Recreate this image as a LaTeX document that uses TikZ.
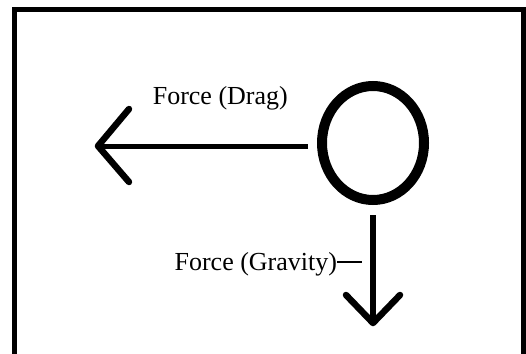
\documentclass[tikz,border=0pt]{standalone}
\usepackage{fontspec}
\setmainfont{Liberation Serif}
\usetikzlibrary{shapes.geometric}
\begin{document}
\begin{tikzpicture}[x=1pt,y=-1pt,
  frameline/.style={line width=5pt},
  ballstyle/.style={draw,ellipse,line width=10pt,minimum width=102pt,minimum height=114pt,inner sep=0pt},
  shaft/.style={line width=5pt},
  barb/.style={line width=6.5pt,line cap=round,line join=round},
  lbl/.style={inner sep=0pt,anchor=base west,font=\fontsize{26}{30}\selectfont},
  leader/.style={line width=2pt}]
\useasboundingbox (0,0) rectangle (526,353);
\draw[frameline] (14.5,360) -- (14.5,9.5) -- (523.5,9.5) -- (523.5,360);
\node[ballstyle] (ball) at (373,143) {};
% drag arrow
\coordinate (dragstart) at (308,146);
\coordinate (dragtip) at (98,146);
\draw[shaft] (dragstart) -- (dragtip);
\draw[barb] (129,109) -- (dragtip) -- (129,182);
\node[lbl] (draglbl) at (152.6,104) {Force (Drag)};
% gravity arrow
\coordinate (gravstart) at (373,215);
\coordinate (gravtip) at (373,323);
\draw[line width=6pt] (gravstart) -- (gravtip);
\draw[barb] (346,295) -- (gravtip) -- (400,295);
\node[lbl] (gravlbl) at (174.4,270) {Force (Gravity)};
\coordinate (leaderend) at (362,262);
\draw[leader] (gravlbl.east |- leaderend) -- (leaderend);
\end{tikzpicture}
\end{document}
